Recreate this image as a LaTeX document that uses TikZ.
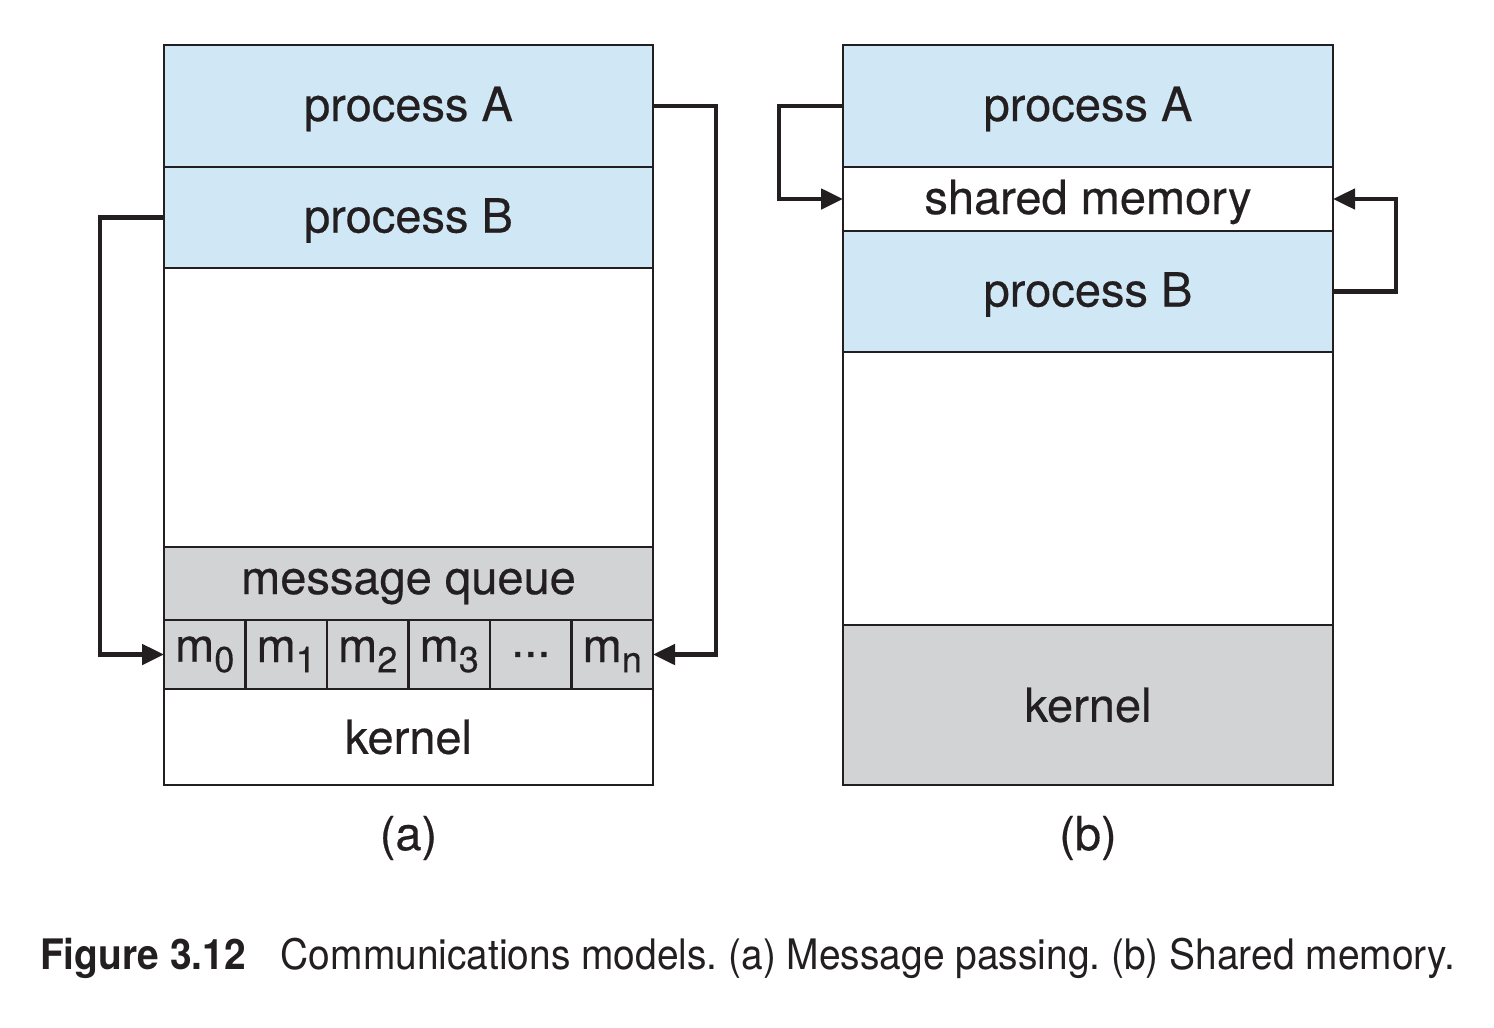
\documentclass[tikz,border=0pt]{standalone}
\usepackage{fontspec}
\setmainfont{TeX Gyre Heros}[FakeBold=0.4]
\newfontfamily\capfont{TeX Gyre Heros}
\usetikzlibrary{arrows.meta}
\definecolor{procblue}{RGB}{208,232,246}
\definecolor{kgray}{RGB}{210,211,213}
\definecolor{edge}{RGB}{35,31,32}
\newcommand{\msub}[1]{m\raisebox{-0.22em}{\fontsize{36pt}{40pt}\selectfont #1}}
\newcommand{\dn}[1]{\raisebox{-3pt}[\height][\depth]{#1}}
\tikzset{
  blk/.style={draw=edge, line width=2.5pt, inner sep=0pt, outer sep=0pt, anchor=center,
    font=\fontsize{47pt}{52pt}\selectfont, text=edge},
  wideL/.style={blk, minimum width=489pt},
  wideR/.style={blk, minimum width=490pt},
  cell/.style={blk, minimum width=81.5pt, minimum height=69pt, fill=kgray},
  conn/.style={draw=edge, line width=4.8pt, -{Triangle[length=22pt,width=20pt]}},
  lbl/.style={font=\fontsize{47pt}{52pt}\selectfont, text=edge, inner sep=0pt}
}
\begin{document}
\frenchspacing
\begin{tikzpicture}[x=1pt,y=-1pt]
\useasboundingbox (0,0) rectangle (1494,1028);
% ---- (a) message passing
\node[wideL, minimum height=122pt, fill=procblue] (pA) at (408.5,106) {\dn{process A}};
\node[wideL, minimum height=101pt, fill=procblue] (pB) at (408.5,217.5) {\dn{process B}};
\node[wideL, minimum height=279pt] (freeA) at (408.5,407.5) {};
\node[wideL, minimum height=73pt, fill=kgray] (mq) at (408.5,583.5) {\dn{message queue}};
\node[cell] (c0) at (204.75,654.5) {\msub{0}};
\node[cell] (c1) at (286.25,654.5) {\msub{1}};
\node[cell] (c2) at (367.75,654.5) {\msub{2}};
\node[cell] (c3) at (449.25,654.5) {\msub{3}};
\node[cell] (c4) at (530.75,654.5) {...};
\node[cell] (cn) at (612.25,654.5) {\msub{n}};
\node[wideL, minimum height=96pt] (kA) at (408.5,737) {kernel};
\draw[conn] (pB.west) -- ++(-64,0) |- (c0.west);
\draw[conn] (pA.east) -- ++(63,0) |- (cn.east);
\node[lbl] (la) at (408.5,838) {(a)};
% ---- (b) shared memory
\node[wideR, minimum height=122pt, fill=procblue] (pA2) at (1088,106) {\dn{process A}};
\node[wideR, minimum height=64pt, fill=white] (shm) at (1088,199) {\dn{shared memory}};
\node[wideR, minimum height=121pt, fill=procblue] (pB2) at (1088,291.5) {\dn{process B}};
\node[wideR, minimum height=273pt] (freeB) at (1088,488.5) {};
\node[wideR, minimum height=160pt, fill=kgray] (kB) at (1088,705) {kernel};
\draw[conn] (pA2.west) -- ++(-64,0) |- (shm.west);
\draw[conn] (pB2.east) -- ++(63,0) |- (shm.east);
\node[lbl] (lb) at (1088,838) {(b)};
% ---- caption
\node[anchor=west, inner sep=0pt, text=edge, font=\capfont\fontsize{42pt}{46pt}\selectfont] (cap) at (40,958)
  {\resizebox{1415pt}{\height}{\textbf{Figure 3.12}\hspace{0.9em}Communications models. (a) Message passing. (b) Shared memory.}};
\end{tikzpicture}
\end{document}
